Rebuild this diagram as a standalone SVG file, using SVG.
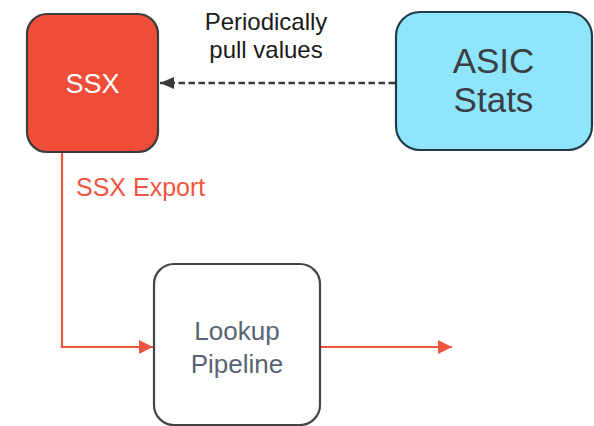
<svg xmlns="http://www.w3.org/2000/svg" width="594" height="426" viewBox="0 0 594 426">
<style>
text{font-family:"Liberation Sans",Arial,sans-serif;text-anchor:middle}
.box{stroke-width:2.2}
.red{stroke:#f05540;stroke-width:2.2;fill:none}
</style>
<defs>
<marker id="ah-red" markerUnits="userSpaceOnUse" markerWidth="16" markerHeight="16" refX="15" refY="8" orient="auto">
<path d="M1,1 L15,8 L1,15 Z" fill="#f05540"/>
</marker>
<marker id="ah-dark" markerUnits="userSpaceOnUse" markerWidth="16" markerHeight="14" refX="15" refY="7" orient="auto">
<path d="M1,1 L15,7 L1,13 Z" fill="#3a3a3a"/>
</marker>
</defs>
<rect width="594" height="426" fill="#ffffff"/>
<g id="connectors">
<line x1="395" y1="83" x2="160" y2="83" stroke="#3a3a3a" stroke-width="2.4" stroke-dasharray="6.5,3.5" marker-end="url(#ah-dark)"/>
<text x="266" y="30" font-size="24" fill="#1a1a1a">Periodically</text>
<text x="266" y="58" font-size="24" fill="#1a1a1a">pull values</text>
<polyline class="red" points="62,152 62,347 153,347" marker-end="url(#ah-red)"/>
<text x="76" y="196" font-size="25" fill="#f05540" style="text-anchor:start">SSX Export</text>
<line class="red" x1="320" y1="347" x2="452" y2="347" marker-end="url(#ah-red)"/>
</g>
<g id="ssx">
<rect class="box" x="27" y="14" width="131" height="138" rx="20" fill="#ef4d38" stroke="#3d3d3d"/>
<text x="92.5" y="93" font-size="27" fill="#ffffff">SSX</text>
</g>
<g id="asic-stats">
<rect class="box" x="396" y="12" width="196" height="138" rx="24" fill="#8fe6fc" stroke="#1f3b48"/>
<text x="493.5" y="73" font-size="35" fill="#3a3f44">ASIC</text>
<text x="493.5" y="112" font-size="35" fill="#3a3f44">Stats</text>
</g>
<g id="lookup-pipeline">
<rect class="box" x="154" y="264" width="166" height="161" rx="20" fill="#ffffff" stroke="#444444"/>
<text x="237" y="340" font-size="26" fill="#586474">Lookup</text>
<text x="237" y="373" font-size="26" fill="#586474">Pipeline</text>
</g>
</svg>
